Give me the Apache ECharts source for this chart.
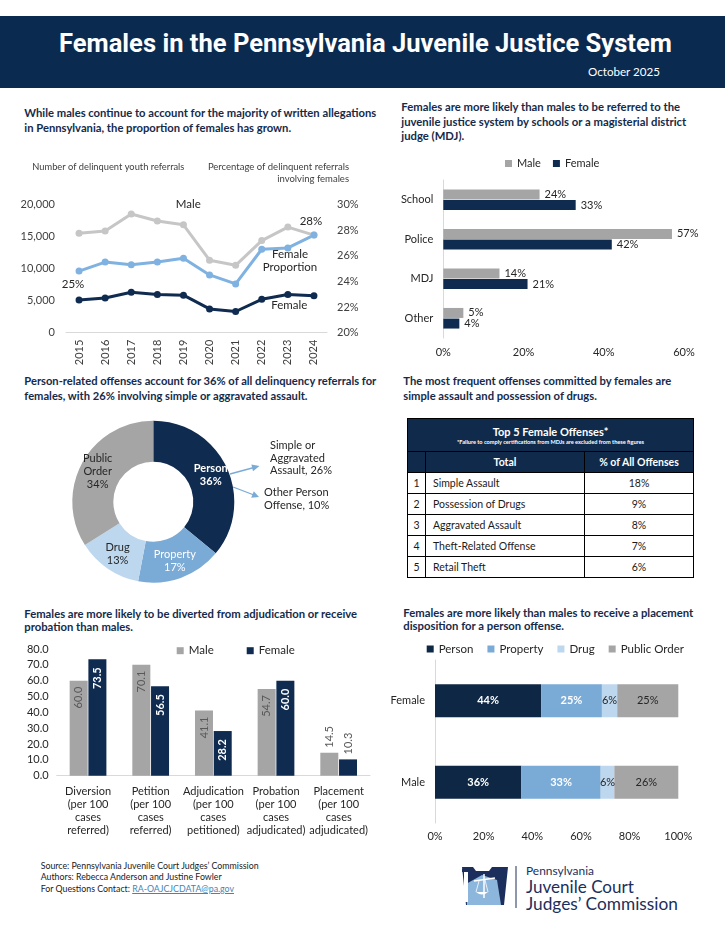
<!DOCTYPE html>
<html><head><meta charset="utf-8">
<script src="https://cdn.jsdelivr.net/npm/echarts@6/dist/echarts.min.js"></script>
<style>
html,body{margin:0;padding:0;background:#fff;}
body{width:725px;height:940px;position:relative;overflow:hidden;font-family:Lato,"Open Sans",sans-serif;color:#152a4a;}
#header{position:absolute;left:0;top:16px;width:725px;height:72px;background:#0b2a50;}
#title{position:absolute;left:59px;top:28px;color:#fff;font-family:Roboto,sans-serif;font-weight:bold;font-size:24px;white-space:nowrap;line-height:30px;}
#date{position:absolute;left:588px;top:64px;color:#fff;font-size:13px;white-space:nowrap;line-height:16px;}
.h{position:absolute;font-weight:bold;font-size:12px;white-space:nowrap;color:#152a4a;}
.h span{display:inline-block;}
#chart{position:absolute;left:0;top:0;width:725px;height:940px;z-index:2;}
#tbl{position:absolute;left:407px;top:418px;width:286px;border-collapse:collapse;table-layout:fixed;font-size:10.5px;color:#1a1a1a;}
#tbl td{border:1px solid #000;padding:0;height:20px;}
#tbl td.n{text-align:center;}
#tbl td.o{padding-left:7px;}
#tbl td.p{text-align:center;}
#tbl .th1 td{background:#0f2a4a;color:#fff;text-align:center;height:32px;}
#tbl .th2 td{background:#0f2a4a;color:#fff;text-align:center;font-weight:bold;height:20px;border-color:#000;}
.tt{font-weight:bold;font-size:11px;line-height:13px;}
.ts{font-weight:bold;font-size:5.6px;line-height:8px;}
#foot{position:absolute;left:40.7px;top:860px;font-size:9.5px;line-height:11.4px;color:#1a1a1a;white-space:nowrap;}
#foot a{color:#3f86b3;text-decoration:underline;}
.lg{position:absolute;left:526px;color:#1c2f5c;white-space:nowrap;}
</style></head>
<body>
<div id="header"></div>
<div id="title" data-fit="613">Females in the Pennsylvania Juvenile Justice System</div>
<div id="date" data-fit="72">October 2025</div>

<div class="h" style="left:24.3px;top:105px;line-height:15px;"><span data-fit="352">While males continue to account for the majority of written allegations</span><br>in Pennsylvania, the proportion of females has grown.</div>
<div class="h" style="left:401.3px;top:100px;line-height:14.7px;"><span data-fit="279">Females are more likely than males to be referred to the</span><br>juvenile justice system by schools or a magisterial district<br>judge (MDJ).</div>
<div class="h" style="left:24.3px;top:372.5px;line-height:15px;"><span data-fit="352">Person-related offenses account for 36% of all delinquency referrals for</span><br>females, with 26% involving simple or aggravated assault.</div>
<div class="h" style="left:403.3px;top:372.5px;line-height:15px;"><span data-fit="268">The most frequent offenses committed by females are</span><br>simple assault and possession of drugs.</div>
<div class="h" style="left:24.3px;top:606.5px;line-height:13.7px;"><span data-fit="333">Females are more likely to be diverted from adjudication or receive</span><br>probation than males.</div>
<div class="h" style="left:403.3px;top:606px;line-height:13.4px;"><span data-fit="290">Females are more likely than males to receive a placement</span><br>disposition for a person offense.</div>

<table id="tbl">
<colgroup><col style="width:18px"><col style="width:159px"><col style="width:109px"></colgroup>
<tr class="th1"><td colspan="3"><div class="tt">Top 5 Female Offenses*</div><div class="ts">*Failure to comply certifications from MDJs are excluded from these figures</div></td></tr>
<tr class="th2"><td></td><td>Total</td><td>% of All Offenses</td></tr>
</table>

<div id="foot"><span data-fit="218">Source: Pennsylvania Juvenile Court Judges’ Commission</span><br>Authors: Rebecca Anderson and Justine Fowler<br>For Questions Contact: <a>RA-OAJCJCDATA@pa.gov</a></div>

<svg style="position:absolute;left:455px;top:860px;" width="70" height="52" viewBox="0 0 70 52">
  <polygon points="7,7 18,7 21,11 34,11 37,7 53,7 49,45 11,45" fill="#1c2f5c"/>
  <polygon points="11,24 27,15 42,20 46,45 12,45" fill="#8db6dd"/>
  <rect x="9" y="12" width="4" height="30" fill="#fff"/>
  <rect x="7" y="9" width="8" height="3" fill="#1c2f5c"/>
  <line x1="29" y1="14" x2="29" y2="38" stroke="#fff" stroke-width="1.5"/>
  <line x1="19" y1="21" x2="40" y2="18" stroke="#fff" stroke-width="1.5"/>
  <path d="M21,32 Q27,37 33,32 Z" fill="#fff"/>
  <line x1="21" y1="32" x2="24" y2="21" stroke="#fff" stroke-width="0.8"/>
  <line x1="33" y1="32" x2="30" y2="20" stroke="#fff" stroke-width="0.8"/>
  <line x1="61" y1="6" x2="61" y2="48" stroke="#1c2f5c" stroke-width="1"/>
</svg>
<div class="lg" style="top:863px;font-size:11px;line-height:15px;" data-fit="68">Pennsylvania</div>
<div class="lg" style="top:876px;font-size:17px;line-height:22px;" data-fit="108">Juvenile Court</div>
<div class="lg" style="top:893px;font-size:17px;line-height:22px;" data-fit="152">Judges’ Commission</div>

<div id="chart"></div>

<script>
// ---------- data ----------
const years = ['2015','2016','2017','2018','2019','2020','2021','2022','2023','2024'];
const maleReferrals = [15500,15850,18500,17400,16800,11300,10500,14350,16450,15200];
const femaleReferrals = [5100,5400,6300,5950,5850,3700,3300,5200,5950,5750];
const femaleProportion = [24.8,25.5,25.3,25.5,25.8,24.5,23.8,26.5,26.6,27.6];

const sourceCats = ['School','Police','MDJ','Other'];
const sourceMale = [24,57,14,5];
const sourceFemale = [33,42,21,4];

const offenseCats = ['Person','Property','Drug','Public Order'];
const offenseShare = [36,17,13,34];

const topOffenses = ['Simple Assault','Possession of Drugs','Aggravated Assault','Theft-Related Offense','Retail Theft'];
const topOffensePct = ['18%','9%','8%','7%','6%'];

const stageCats = ['Diversion\n(per 100\ncases\nreferred)','Petition\n(per 100\ncases\nreferred)','Adjudication\n(per 100\ncases\npetitioned)','Probation\n(per 100\ncases\nadjudicated)','Placement\n(per 100\ncases\nadjudicated)'];
const stageMale = [60.0,70.1,41.1,54.7,14.5];
const stageFemale = [73.5,56.5,28.2,60.0,10.3];

const placementCats = ['Female','Male'];
const placePerson = [43.6,35.5];
const placeProperty = [25.0,32.6];
const placeDrug = [6.3,5.6];
const placePublic = [25.1,26.3];

// ---------- table ----------
const tbl = document.getElementById('tbl');
topOffenses.forEach((o,i)=>{
  const tr = document.createElement('tr');
  tr.innerHTML = '<td class="n">'+(i+1)+'</td><td class="o">'+o+'</td><td class="p">'+topOffensePct[i]+'</td>';
  tbl.appendChild(tr);
});

// ---------- fit text widths ----------
document.querySelectorAll('[data-fit]').forEach(el=>{
  const target = +el.getAttribute('data-fit');
  const holder = el.tagName==='SPAN' ? el.parentElement : el;
  const fs = parseFloat(getComputedStyle(holder).fontSize);
  const w = el.getBoundingClientRect().width;
  if (w>0) holder.style.fontSize = (fs*target/w).toFixed(2)+'px';
});

// ---------- chart ----------
const NAVY='#0f2b50', GRAY='#a5a5a5', LGRAY='#c6c6c6', PROPC='#7fb2e0', MBLUE='#7aaad6', PALE='#bdd7ee';
const AX='#d9d9d9', TXT='#262626';
const FONT='Lato';
const chart = echarts.init(document.getElementById('chart'));

const pieStyles = [
  {color:NAVY, label:{color:'#fff',fontWeight:'bold'}},
  {color:MBLUE, label:{color:'#fff'}},
  {color:PALE, label:{color:TXT}},
  {color:GRAY, label:{color:TXT}}
];

const legendFmt = n => n.split(' (')[0];

chart.setOption({
  backgroundColor:'transparent',
  animation:false,
  textStyle:{fontFamily:FONT},
  grid:[
    {left:66, top:204.3, width:261, height:128.4},
    {left:443.3, top:180, width:240.7, height:158},
    {left:56.7, top:649, width:313.3, height:126.7},
    {left:435, top:660, width:243.3, height:163}
  ],
  legend:[
    {left:500, top:153, itemWidth:7, itemHeight:7, itemGap:12, icon:'rect', data:['Male (src)','Female (src)'], formatter:legendFmt, textStyle:{fontSize:11,color:TXT}},
    {left:171.7, top:639.7, itemWidth:7, itemHeight:7, itemGap:33, icon:'rect', data:['Male (stage)','Female (stage)'], formatter:legendFmt, textStyle:{fontSize:11.5,color:TXT}},
    {left:421.7, top:638, itemWidth:7, itemHeight:7, itemGap:14, icon:'rect', data:offenseCats, textStyle:{fontSize:11.5,color:TXT}}
  ],
  xAxis:[
    {gridIndex:0, type:'category', data:years, axisLine:{lineStyle:{color:AX}}, axisTick:{show:false}, axisLabel:{rotate:90, fontSize:11, color:'#404040', margin:7}},
    {gridIndex:1, type:'value', min:0, max:60, interval:20, axisLine:{show:false}, axisTick:{show:false}, splitLine:{show:false}, axisLabel:{formatter:'{value}%', fontSize:11, color:TXT, margin:9}},
    {gridIndex:2, type:'category', data:stageCats, axisLine:{lineStyle:{color:AX}}, axisTick:{show:false}, axisLabel:{interval:0, fontSize:11, lineHeight:13, color:TXT, margin:9}},
    {gridIndex:3, type:'value', min:0, max:100, interval:20, axisLine:{show:false}, axisTick:{show:false}, splitLine:{show:false}, axisLabel:{formatter:'{value}%', fontSize:11, color:TXT, margin:8}}
  ],
  yAxis:[
    {gridIndex:0, type:'value', min:0, max:20000, interval:5000, axisLine:{show:false}, axisTick:{show:false}, splitLine:{show:false}, axisLabel:{formatter:v=>v.toLocaleString('en-US'), fontSize:11, color:'#404040', margin:11}},
    {gridIndex:0, type:'value', position:'right', min:20, max:30, interval:2, axisLine:{show:false}, axisTick:{show:false}, splitLine:{show:false}, axisLabel:{formatter:'{value}%', fontSize:11, color:'#404040', margin:10}},
    {gridIndex:1, type:'category', inverse:true, data:sourceCats, axisLine:{show:true, lineStyle:{color:AX}}, axisTick:{show:false}, axisLabel:{fontSize:11, color:TXT, margin:10}},
    {gridIndex:2, type:'value', min:0, max:80, interval:10, axisLine:{show:false}, axisTick:{show:false}, splitLine:{show:false}, axisLabel:{formatter:v=>v.toFixed(1), fontSize:11, color:TXT, margin:8}},
    {gridIndex:3, type:'category', inverse:true, data:placementCats, axisLine:{show:true, lineStyle:{color:AX}}, axisTick:{show:false}, axisLabel:{fontSize:11, color:TXT, margin:10}}
  ],
  series:[
    // line chart
    {name:'Male referrals', type:'line', xAxisIndex:0, yAxisIndex:0, data:maleReferrals, color:LGRAY, lineStyle:{width:3}, symbol:'circle', symbolSize:7},
    {name:'Female proportion', type:'line', xAxisIndex:0, yAxisIndex:1, color:PROPC, lineStyle:{width:3}, symbol:'circle', symbolSize:7,
      data:femaleProportion.map((v,i)=>{
        if(i===0) return {value:v, label:{show:true, position:'bottom', offset:[-6,0], distance:4}};
        if(i===femaleProportion.length-1) return {value:v, label:{show:true, position:'top', offset:[-3,0], distance:4}};
        return v;
      }),
      label:{formatter:p=>Math.round(p.value)+'%', fontSize:11.5, color:TXT}},
    {name:'Female referrals', type:'line', xAxisIndex:0, yAxisIndex:0, data:femaleReferrals, color:NAVY, lineStyle:{width:3}, symbol:'circle', symbolSize:7},

    // horizontal bar (referral source)
    {name:'Male (src)', type:'bar', xAxisIndex:1, yAxisIndex:2, data:sourceMale, color:GRAY, barWidth:10, barGap:'6%',
      label:{show:true, position:'right', distance:5, formatter:'{c}%', fontSize:11, color:TXT}},
    {name:'Female (src)', type:'bar', xAxisIndex:1, yAxisIndex:2, data:sourceFemale, color:NAVY, barWidth:10, barGap:'6%',
      label:{show:true, position:'right', distance:5, formatter:'{c}%', fontSize:11, color:TXT}},

    // donut
    {name:'Offense type', type:'pie', center:[153.3,501.7], radius:[40,81], startAngle:90, avoidLabelOverlap:false,
      labelLine:{show:false}, emphasis:{disabled:true},
      label:{position:'inside', fontSize:11, lineHeight:13,
        formatter:p=>p.name.replace(' ','\n')+'\n'+p.value+'%'},
      data:offenseCats.map((c,i)=>({name:c, value:offenseShare[i], itemStyle:{color:pieStyles[i].color}, label:pieStyles[i].label}))},

    // vertical bar (stages)
    {name:'Male (stage)', type:'bar', xAxisIndex:2, yAxisIndex:3, color:GRAY, barWidth:18, barGap:'4%',
      data:stageMale.map((v,i)=> i===stageMale.length-1 ? {value:v, label:{position:'top', align:'left', distance:5}} : v),
      label:{show:true, position:'insideTop', rotate:90, align:'right', verticalAlign:'middle', distance:6, fontSize:11, color:'#595959', formatter:p=>p.value.toFixed(1)}},
    {name:'Female (stage)', type:'bar', xAxisIndex:2, yAxisIndex:3, color:NAVY, barWidth:18, barGap:'4%',
      data:stageFemale.map((v,i)=> i===stageFemale.length-1 ? {value:v, label:{position:'top', align:'left', distance:5, color:'#595959', fontWeight:'normal'}} : v),
      label:{show:true, position:'insideTop', rotate:90, align:'right', verticalAlign:'middle', distance:8, fontSize:11, color:'#fff', fontWeight:'bold', formatter:p=>p.value.toFixed(1)}},

    // stacked placement
    {name:'Person', type:'bar', stack:'pl', xAxisIndex:3, yAxisIndex:4, data:placePerson, color:'#0e2744', barWidth:33,
      label:{show:true, formatter:p=>Math.round(p.value)+'%', fontSize:11, color:'#fff', fontWeight:'bold'}},
    {name:'Property', type:'bar', stack:'pl', xAxisIndex:3, yAxisIndex:4, data:placeProperty, color:MBLUE, barWidth:33,
      label:{show:true, formatter:p=>Math.round(p.value)+'%', fontSize:11, color:'#fff', fontWeight:'bold'}},
    {name:'Drug', type:'bar', stack:'pl', xAxisIndex:3, yAxisIndex:4, data:placeDrug, color:PALE, barWidth:33,
      label:{show:true, formatter:p=>Math.round(p.value)+'%', fontSize:11, color:TXT}},
    {name:'Public Order', type:'bar', stack:'pl', xAxisIndex:3, yAxisIndex:4, data:placePublic, color:GRAY, barWidth:33,
      label:{show:true, formatter:p=>Math.round(p.value)+'%', fontSize:11, color:TXT}}
  ],
  graphic:[
    {type:'text', x:32.3, y:166.7, style:{text:'Number of delinquent youth referrals', fontSize:9.3, fill:'#404040', verticalAlign:'middle', fontFamily:FONT}},
    {type:'text', x:349, y:166.7, style:{text:'Percentage of delinquent referrals', fontSize:9.5, align:'right', verticalAlign:'middle', fill:'#404040', fontFamily:FONT}},
    {type:'text', x:349, y:179, style:{text:'involving females', fontSize:9.5, align:'right', verticalAlign:'middle', fill:'#404040', fontFamily:FONT}},
    {type:'text', x:188.3, y:204.3, style:{text:'Male', fontSize:11.5, fill:TXT, align:'center', verticalAlign:'middle', fontFamily:FONT}},
    {type:'text', x:290, y:261, style:{text:'Female\nProportion', fontSize:11.5, lineHeight:13, fill:TXT, align:'center', verticalAlign:'middle', fontFamily:FONT}},
    {type:'text', x:289.3, y:305.7, style:{text:'Female', fontSize:11.5, fill:TXT, align:'center', verticalAlign:'middle', fontFamily:FONT}},
    // donut annotations
    {type:'text', x:270, y:458, style:{text:'Simple or\nAggravated\nAssault, 26%', fontSize:11, lineHeight:12.8, fill:TXT, verticalAlign:'middle', fontFamily:FONT}},
    {type:'text', x:264, y:498.5, style:{text:'Other Person\nOffense, 10%', fontSize:11, lineHeight:13, fill:TXT, verticalAlign:'middle', fontFamily:FONT}},
    {type:'line', shape:{x1:230,y1:474,x2:254,y2:467.5}, style:{stroke:MBLUE, lineWidth:1.3}},
    {type:'polygon', shape:{points:[[259.5,466],[253,471.2],[251.4,464.4]]}, style:{fill:MBLUE}},
    {type:'line', shape:{x1:233,y1:487,x2:254,y2:495}, style:{stroke:MBLUE, lineWidth:1.3}},
    {type:'polygon', shape:{points:[[259,497],[251.2,497.8],[253.8,491.2]]}, style:{fill:MBLUE}}
  ]
});
</script>
</body></html>
